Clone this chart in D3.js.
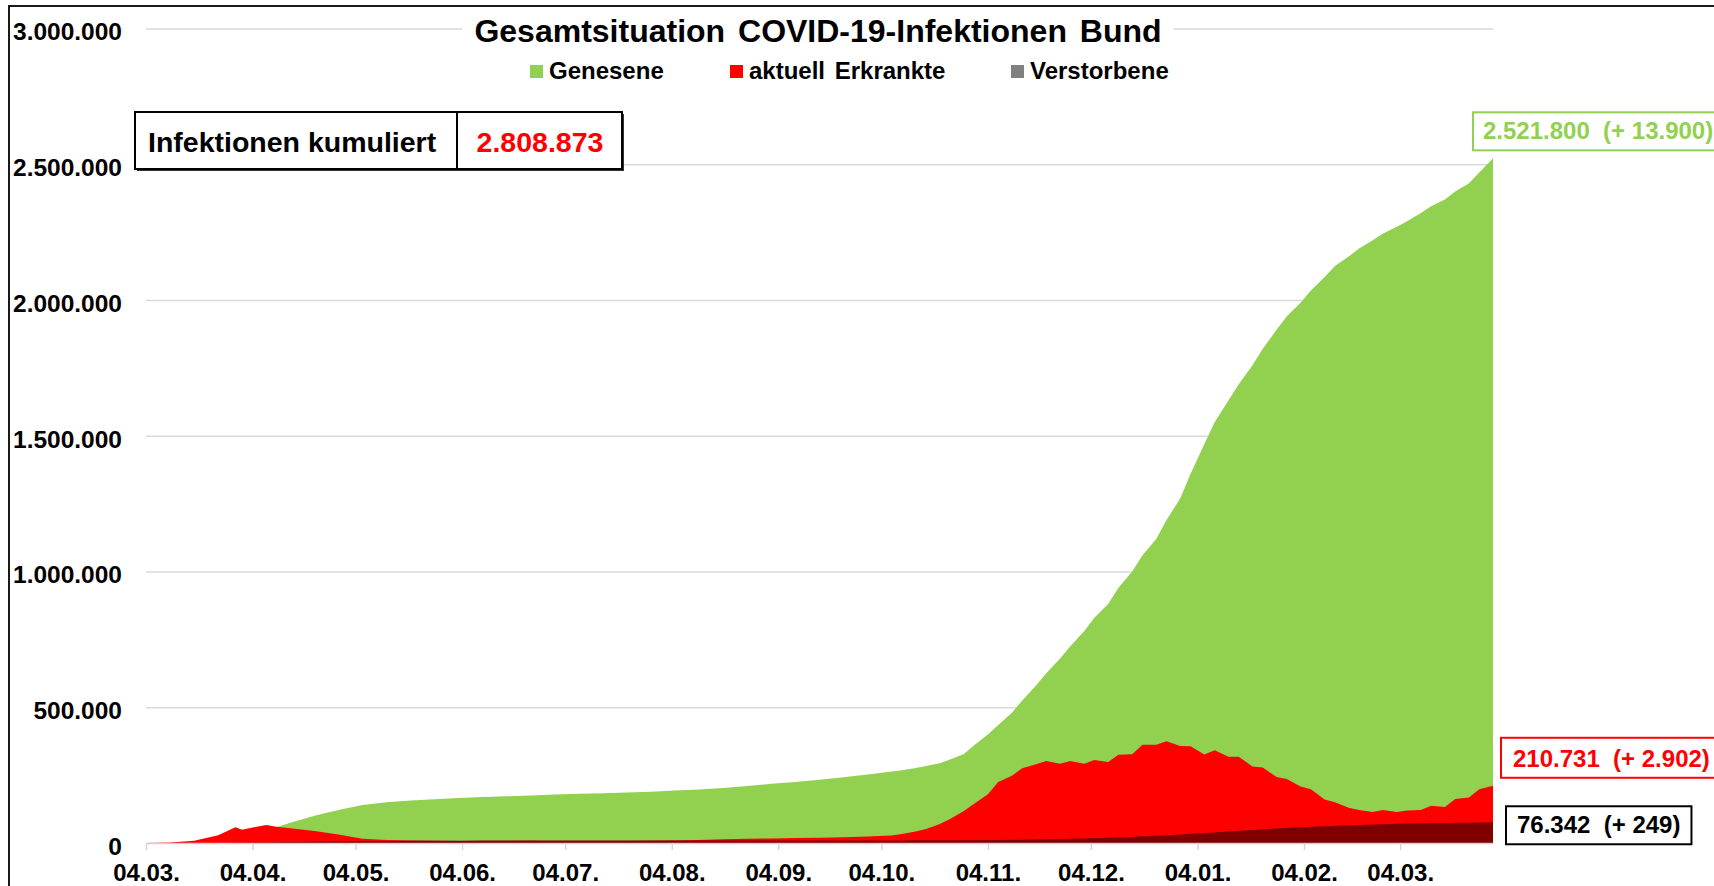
<!DOCTYPE html>
<html lang="de">
<head>
<meta charset="utf-8">
<title>Gesamtsituation COVID-19-Infektionen Bund</title>
<script src="https://cdn.jsdelivr.net/npm/d3@7"></script>
<style>
  html, body { margin: 0; padding: 0; background: #fff; overflow: hidden; }
  svg { display: block; font-family: "Liberation Sans", Arial, sans-serif; font-weight: bold; }
</style>
</head>
<body>
<div id="chart"></div>
<script>
// Reporting dates (weekly, denser around the peaks)
const dates = [
  '2020-03-04', '2020-03-11', '2020-03-18', '2020-03-25', '2020-03-30', '2020-04-01', '2020-04-04',
  '2020-04-08', '2020-04-11', '2020-04-15', '2020-04-22', '2020-04-29', '2020-05-06', '2020-05-13',
  '2020-05-20', '2020-05-27', '2020-06-03', '2020-06-10', '2020-06-17', '2020-06-24', '2020-07-01',
  '2020-07-08', '2020-07-15', '2020-07-22', '2020-07-29', '2020-08-05', '2020-08-12', '2020-08-19',
  '2020-08-26', '2020-09-02', '2020-09-09', '2020-09-16', '2020-09-23', '2020-09-30',
  '2020-10-07', '2020-10-10', '2020-10-14', '2020-10-17', '2020-10-21', '2020-10-24', '2020-10-28',
  '2020-10-31', '2020-11-04', '2020-11-07', '2020-11-11', '2020-11-14', '2020-11-18', '2020-11-21',
  '2020-11-25', '2020-11-28', '2020-12-02', '2020-12-05', '2020-12-09', '2020-12-12', '2020-12-16',
  '2020-12-19', '2020-12-23', '2020-12-26', '2020-12-30', '2021-01-02', '2021-01-06', '2021-01-09',
  '2021-01-13', '2021-01-16', '2021-01-20', '2021-01-23', '2021-01-27', '2021-01-30', '2021-02-03',
  '2021-02-06', '2021-02-10', '2021-02-13', '2021-02-17', '2021-02-20', '2021-02-24', '2021-02-27',
  '2021-03-03', '2021-03-06', '2021-03-10', '2021-03-13', '2021-03-17', '2021-03-20', '2021-03-24',
  '2021-03-27', '2021-03-31'
]

// Values in thousands
const recoveredK = [
  0.02, 0.05, 0.1, 3, 9, 14, 25,
  45, 58, 75, 100, 122, 140, 150,
  157, 161, 166, 169, 172, 175, 179,
  181, 183, 186, 189, 193, 197, 203,
  210, 218, 225, 233, 242, 252,
  263, 268, 276, 284, 294, 308, 328,
  360, 400, 435, 480, 525, 580, 625,
  680, 725, 780, 830, 880, 940, 1000,
  1060, 1120, 1190, 1270, 1360, 1470, 1550,
  1630, 1690, 1760, 1820, 1890, 1940, 1990,
  2035, 2085, 2125, 2160, 2190, 2220, 2245,
  2270, 2290, 2320, 2345, 2370, 2400, 2430,
  2470, 2521.8
]

const activeK = [
  0.2, 1.5, 8, 29, 58, 49, 57,
  66, 60, 54, 44, 31, 16, 11,
  9, 8.5, 7.5, 7, 7, 8, 6.5,
  6, 6, 7, 8, 9, 11, 14,
  16, 17, 18, 19, 21, 24,
  28, 33, 42, 52, 70, 88, 118,
  145, 180, 225, 248, 275, 290, 302,
  292, 302, 292, 306, 298, 325, 327,
  362, 362, 375, 357, 356, 326, 342,
  318, 318, 282, 278, 243, 236, 208,
  198, 160, 150, 130, 122, 114, 122,
  114, 120, 122, 137, 133, 162, 168,
  198, 210.731
]

const deathsK = [
  0, 0.002, 0.03, 0.2, 0.6, 0.9, 1.4,
  2.1, 2.7, 3.5, 5.0, 6.2, 7.0, 7.6,
  8.1, 8.4, 8.6, 8.8, 8.9, 9.0, 9.0,
  9.1, 9.1, 9.1, 9.2, 9.2, 9.2, 9.25,
  9.3, 9.3, 9.35, 9.4, 9.45, 9.5,
  9.6, 9.6, 9.7, 9.8, 9.9, 10.0, 10.2,
  10.5, 10.9, 11.3, 11.8, 12.2, 12.8, 13.6,
  14.4, 15.5, 16.7, 18.0, 19.3, 20.5, 22.5,
  24.5, 27.0, 29.0, 31.5, 34.0, 36.5, 39.0,
  42.0, 45.0, 48.0, 51.0, 53.5, 56.0, 58.0,
  60.0, 62.0, 63.5, 65.0, 66.5, 68.0, 69.5,
  70.5, 71.5, 72.5, 73.3, 74.0, 74.5, 75.0,
  75.7, 76.342
]

// Change against the previous day, shown in the end labels
const lastDeltas = [13900, 2902, 249]

const seriesNames = ['Genesene', 'aktuell Erkrankte', 'Verstorbene']
const areaColors = ['#92d050', '#ff0000', '#7f0000']
const legendColors = ['#92d050', '#ff0000', '#808080']

const yTicks = [0, 500000, 1000000, 1500000, 2000000, 2500000, 3000000]
const xTicks = [
  '2020-03-04', '2020-04-04', '2020-05-04', '2020-06-04', '2020-07-04', '2020-08-04', '2020-09-04',
  '2020-10-04', '2020-11-04', '2020-12-04', '2021-01-04', '2021-02-04', '2021-03-04'
]

const width = 1714
const height = 886
const plot = { left: 146, right: 1493, top: 28.5, bottom: 843 }
const fontStack = '"Liberation Sans", Arial, sans-serif'

const de = d3.formatLocale({ decimal: ',', thousands: '.', grouping: [3], currency: ['', ' €'] })
const fmt = de.format(',d')
const parseDate = d3.timeParse('%Y-%m-%d')

const rows = dates.map((d, i) => ({
  date: parseDate(d),
  values: [recoveredK[i] * 1000, activeK[i] * 1000, deathsK[i] * 1000]
}))

const x = d3.scaleTime()
  .domain(d3.extent(rows, d => d.date))
  .range([plot.left, plot.right])

const y = d3.scaleLinear()
  .domain([0, 3000000])
  .range([plot.bottom, plot.top])

const svg = d3.select('#chart')
  .append('svg')
  .attr('width', width)
  .attr('height', height)
  .attr('viewBox', '0 0 ' + width + ' ' + height)

svg.append('rect')
  .attr('width', width)
  .attr('height', height)
  .attr('fill', '#fff')

// Chart frame (right and bottom edge run off the picture)
svg.append('rect')
  .attr('x', 9)
  .attr('y', 6)
  .attr('width', width + 20)
  .attr('height', height + 20)
  .attr('fill', 'none')
  .attr('stroke', '#1a1a1a')
  .attr('stroke-width', 2)

// Gridlines
const grid = svg.append('g')
  .attr('transform', 'translate(' + plot.left + ',0)')
  .call(d3.axisLeft(y).tickValues(yTicks.slice(1)).tickSize(-(plot.right - plot.left)).tickFormat(''))
grid.select('.domain').remove()
grid.selectAll('line').attr('stroke', '#d9d9d9').attr('stroke-width', 1.5)

// Y labels
const yAxis = svg.append('g')
  .attr('transform', 'translate(' + plot.left + ',0)')
  .call(d3.axisLeft(y).tickValues(yTicks).tickSize(0).tickPadding(24).tickFormat(d => fmt(d)))
yAxis.select('.domain').remove()
yAxis.selectAll('text')
  .attr('dy', '0.46em')
  .attr('fill', '#000')
  .attr('font-size', 24.5)
  .attr('font-family', fontStack)
  .attr('font-weight', 'bold')

// Areas, each one drawn from zero, green first, deaths last
seriesNames.forEach((name, i) => {
  const area = d3.area()
    .x(d => x(d.date))
    .y0(y(0))
    .y1(d => y(d.values[i]))
  svg.append('path')
    .datum(rows)
    .attr('d', area)
    .attr('fill', areaColors[i])
})

// X axis
const xAxis = svg.append('g')
  .attr('transform', 'translate(0,' + plot.bottom + ')')
  .call(d3.axisBottom(x)
    .tickValues(xTicks.map(parseDate))
    .tickSize(7)
    .tickSizeOuter(0)
    .tickPadding(14)
    .tickFormat(d3.timeFormat('%d.%m.')))
xAxis.select('.domain').attr('stroke', '#d9c9c9').attr('stroke-width', 1.5)
xAxis.selectAll('line').attr('stroke', '#d9d9d9').attr('stroke-width', 1.5)
xAxis.selectAll('text')
  .attr('fill', '#000')
  .attr('font-size', 24)
  .attr('font-family', fontStack)
  .attr('font-weight', 'bold')

// Title on a white plate
const titleBg = svg.append('rect').attr('fill', '#fff')
const title = svg.append('text')
  .attr('x', 818)
  .attr('y', 42)
  .attr('text-anchor', 'middle')
  .attr('font-size', 32)
  .attr('word-spacing', 4)
  .attr('fill', '#000')
  .text('Gesamtsituation COVID-19-Infektionen Bund')
const tb = title.node().getBBox()
titleBg.attr('x', tb.x - 12).attr('y', tb.y).attr('width', tb.width + 24).attr('height', tb.height)

// Legend
const legendX = [530, 730, 1011]
const legend = svg.append('g')
seriesNames.forEach((name, i) => {
  legend.append('rect')
    .attr('x', legendX[i])
    .attr('y', 65)
    .attr('width', 13)
    .attr('height', 13)
    .attr('fill', legendColors[i])
  legend.append('text')
    .attr('x', legendX[i] + 19)
    .attr('y', 79)
    .attr('font-size', 24)
    .attr('word-spacing', 3)
    .attr('fill', '#000')
    .text(name)
})

// Cumulative infections box
const last = rows[rows.length - 1]
const total = Math.round(d3.sum(last.values))
const box = svg.append('g')
box.append('rect')
  .attr('x', 137).attr('y', 114).attr('width', 487).attr('height', 57)
  .attr('fill', '#333')
box.append('rect')
  .attr('x', 135).attr('y', 112).attr('width', 487).attr('height', 57)
  .attr('fill', '#fff').attr('stroke', '#000').attr('stroke-width', 2)
box.append('line')
  .attr('x1', 457).attr('x2', 457).attr('y1', 112).attr('y2', 169)
  .attr('stroke', '#000').attr('stroke-width', 2)
box.append('text')
  .attr('x', 148).attr('y', 152)
  .attr('font-size', 28.5)
  .attr('fill', '#000')
  .text('Infektionen kumuliert')
box.append('text')
  .attr('x', 540).attr('y', 152)
  .attr('text-anchor', 'middle')
  .attr('font-size', 28.5)
  .attr('fill', '#ff0000')
  .text(fmt(total))

// End labels with the daily change
const endLabels = [
  { left: 1473, top: y(last.values[0]) - 46, h: 38, pad: 10, stroke: '#92d050', color: '#92d050' },
  { left: 1501, top: y(last.values[1]) - 48, h: 40, pad: 12, stroke: '#ff0000', color: '#ff0000' },
  { left: 1506, top: y(last.values[2]) - 16, h: 38, pad: 11, stroke: '#000', color: '#000' }
]
endLabels.forEach((lab, i) => {
  const g = svg.append('g')
  const r = g.append('rect')
    .attr('x', lab.left).attr('y', lab.top).attr('height', lab.h)
    .attr('fill', '#fff').attr('stroke', lab.stroke).attr('stroke-width', 2)
  const t = g.append('text')
    .attr('x', lab.left + lab.pad)
    .attr('y', lab.top + lab.h - 11)
    .attr('font-size', 24)
    .attr('fill', lab.color)
    .style('white-space', 'pre')
    .text(fmt(Math.round(last.values[i])) + '  (+ ' + fmt(lastDeltas[i]) + ')')
  r.attr('width', t.node().getComputedTextLength() + lab.pad * 2)
})
</script>
</body>
</html>
